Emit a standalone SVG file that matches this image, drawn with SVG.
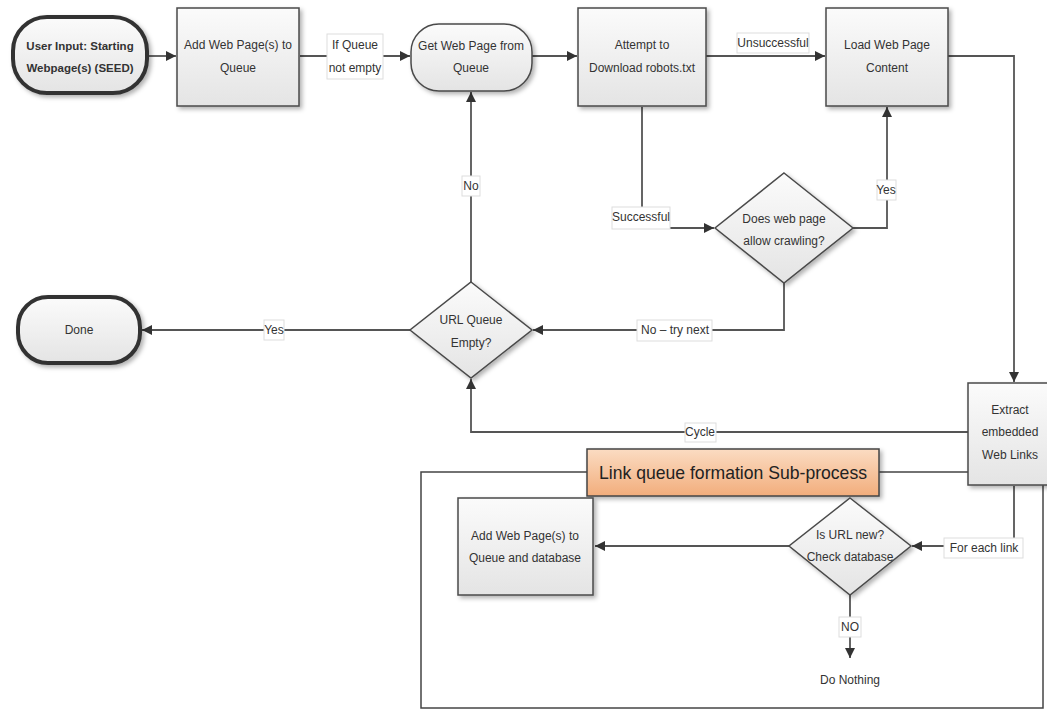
<svg xmlns="http://www.w3.org/2000/svg" width="1047" height="712" viewBox="0 0 1047 712">
<style>
text{font-family:"Liberation Sans",Arial,sans-serif;font-size:12px;fill:#333;text-anchor:middle;dominant-baseline:central}
.box{fill:url(#g);stroke:#4a4a4a;stroke-width:1.5}
.term{fill:url(#g);stroke:#333;stroke-width:4}
.term2{fill:url(#g);stroke:#4a4a4a;stroke-width:1.5}
.c{fill:none;stroke:#555;stroke-width:1.8}
.lb{fill:#fff;stroke:#ddd;stroke-width:1}
.b{font-weight:bold;font-size:11.5px}
</style>
<defs>
<linearGradient id="g" x1="0" y1="0" x2="0" y2="1"><stop offset="0" stop-color="#fbfbfb"/><stop offset="1" stop-color="#e4e4e4"/></linearGradient>
<linearGradient id="o" x1="0" y1="0" x2="0" y2="1"><stop offset="0" stop-color="#fbdcc2"/><stop offset="1" stop-color="#f2ad7c"/></linearGradient>
<filter id="sh" x="-10%" y="-10%" width="130%" height="130%"><feDropShadow dx="2.5" dy="2.5" stdDeviation="2" flood-color="#000" flood-opacity="0.3"/></filter>
<marker id="ar" viewBox="0 0 10 10" refX="10" refY="5" markerWidth="10" markerHeight="10" markerUnits="userSpaceOnUse" orient="auto"><path d="M0,0 L10,5 L0,10 z" fill="#333"/></marker>
</defs>
<rect width="1047" height="712" fill="#fff"/>

<g id="container"><rect x="421" y="472" width="622" height="236" fill="none" stroke="#444" stroke-width="1.5"/></g>

<g id="connectors">
<path class="c" d="M148,56 H176" marker-end="url(#ar)"/>
<path class="c" d="M300,56 H410" marker-end="url(#ar)"/>
<path class="c" d="M532,56 H577" marker-end="url(#ar)"/>
<path class="c" d="M706,56 H825" marker-end="url(#ar)"/>
<path class="c" d="M948,56 H1014 V382" marker-end="url(#ar)"/>
<path class="c" d="M642,107 V228 H714" marker-end="url(#ar)"/>
<path class="c" d="M853,228 H887 V107" marker-end="url(#ar)"/>
<path class="c" d="M784,283 V330 H533" marker-end="url(#ar)"/>
<path class="c" d="M471,282 V92" marker-end="url(#ar)"/>
<path class="c" d="M410,330 H142" marker-end="url(#ar)"/>
<path class="c" d="M968,432 H471 V379" marker-end="url(#ar)"/>
<path class="c" d="M1014,486 V546 H912" marker-end="url(#ar)"/>
<path class="c" d="M790,546 H595" marker-end="url(#ar)"/>
<path class="c" d="M850,595 V658" marker-end="url(#ar)"/>
<rect class="lb" x="327" y="34" width="56" height="45"/><text x="355" y="45">If Queue</text><text x="355" y="68">not empty</text>
<rect class="lb" x="737" y="33" width="72" height="20"/><text x="773" y="43">Unsuccessful</text>
<rect class="lb" x="612" y="207" width="58" height="22"/><text x="641" y="217">Successful</text>
<rect class="lb" x="877" y="180" width="19" height="20"/><text x="886" y="190">Yes</text>
<rect class="lb" x="637" y="320" width="75" height="21"/><text x="675" y="330">No – try next</text>
<rect class="lb" x="462" y="176" width="18" height="20"/><text x="471" y="186">No</text>
<rect class="lb" x="264" y="320" width="20" height="20"/><text x="274" y="330">Yes</text>
<rect class="lb" x="685" y="423" width="31" height="19" stroke="none"/><text x="700" y="432">Cycle</text>
<rect class="lb" x="944" y="538" width="79" height="20" stroke="none"/><text x="984" y="548">For each link</text>
<rect class="lb" x="839" y="617" width="22" height="20" stroke="none"/><text x="850" y="627">NO</text>
</g>

<g id="start"><rect class="term" x="13" y="17" width="134" height="76" rx="34" filter="url(#sh)"/><text class="b" x="80" y="46">User Input: Starting</text><text class="b" x="80" y="68">Webpage(s) (SEED)</text></g>
<g id="addQueue"><rect class="box" x="177" y="8" width="122" height="98" filter="url(#sh)"/><text x="238" y="45">Add Web Page(s) to</text><text x="238" y="68">Queue</text></g>
<g id="getPage"><rect class="term2" x="411" y="24" width="121" height="67" rx="28" filter="url(#sh)"/><text x="471" y="46">Get Web Page from</text><text x="471" y="68">Queue</text></g>
<g id="robots"><rect class="box" x="578" y="8" width="128" height="98" filter="url(#sh)"/><text x="642" y="45">Attempt to</text><text x="642" y="68">Download robots.txt</text></g>
<g id="load"><rect class="box" x="826" y="8" width="122" height="98" filter="url(#sh)"/><text x="887" y="45">Load Web Page</text><text x="887" y="68">Content</text></g>
<g id="crawl"><polygon class="box" points="784,173 853,228 784,283 715,228" filter="url(#sh)"/><text x="784" y="219">Does web page</text><text x="784" y="241">allow crawling?</text></g>
<g id="urlEmpty"><polygon class="box" points="471,282 532,330 471,378 410,330" filter="url(#sh)"/><text x="471" y="320">URL Queue</text><text x="471" y="343">Empty?</text></g>
<g id="done"><rect class="term" x="18" y="297" width="122" height="66" rx="30" filter="url(#sh)"/><text x="79" y="330">Done</text></g>
<g id="extract"><rect class="box" x="968" y="383" width="84" height="102" filter="url(#sh)"/><text x="1010" y="410">Extract</text><text x="1010" y="432">embedded</text><text x="1010" y="455">Web Links</text></g>
<g id="title"><rect x="587" y="449" width="292" height="47" fill="url(#o)" stroke="#444" stroke-width="1.5" filter="url(#sh)"/><text x="733" y="472" textLength="268" lengthAdjust="spacingAndGlyphs" style="font-size:19px;fill:#222">Link queue formation Sub-process</text></g>
<g id="addDb"><rect class="box" x="458" y="498" width="135" height="97" filter="url(#sh)"/><text x="525" y="536">Add Web Page(s) to</text><text x="525" y="558">Queue and database</text></g>
<g id="isNew"><polygon class="box" points="850,498 911,546 850,595 789,546" filter="url(#sh)"/><text x="850" y="535">Is URL new?</text><text x="850" y="557">Check database</text></g>
<g id="nothing"><text x="850" y="680">Do Nothing</text></g>
</svg>
